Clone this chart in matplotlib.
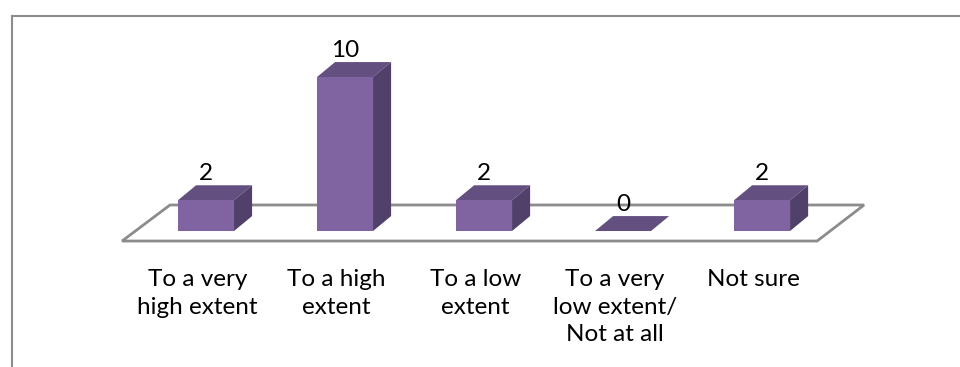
import numpy as np
import matplotlib.pyplot as plt
from matplotlib.patches import Polygon
from matplotlib.lines import Line2D

categories = ['To a very\nhigh extent', 'To a high\nextent', 'To a low\nextent',
              'To a very\nlow extent/\nNot at all', 'Not sure']
counts = [2, 10, 2, 0, 2]

front_col = '#8064a2'
top_col = '#634f80'
side_col = '#514069'
floor_col = '#8c8c8c'

plt.rcParams['font.family'] = ['Lato', 'DejaVu Sans']

fig = plt.figure(figsize=(9.6, 3.67), dpi=100)
ax = fig.add_axes([0, 0, 1, 1])
ax.set_xlim(-1.482, 5.424)
ax.set_ylim(-8.83, 15.0)
ax.axis('off')

x = np.arange(len(counts))
w = 0.403          # bar width
ddx, ddy = 0.13, 0.97   # depth offset of the pseudo-3D boxes

# floor of the 3D plot area
floor = Polygon([(-0.604, -0.65), (4.396, -0.65), (4.734, 1.69), (-0.259, 1.69)],
                closed=True, facecolor='none', edgecolor=floor_col, lw=2, zorder=1)
ax.add_patch(floor)

for xi, v in zip(x, counts):
    x0, x1 = xi - w / 2, xi + w / 2
    # top face
    ax.add_patch(Polygon([(x0, v), (x1, v), (x1 + ddx, v + ddy), (x0 + ddx, v + ddy)],
                         closed=True, facecolor=top_col, edgecolor='none', zorder=3))
    if v > 0:
        # right side face
        ax.add_patch(Polygon([(x1, 0), (x1 + ddx, ddy), (x1 + ddx, v + ddy), (x1, v)],
                             closed=True, facecolor=side_col, edgecolor='none', zorder=3))
        # front face
        ax.add_patch(Polygon([(x0, 0), (x1, 0), (x1, v), (x0, v)],
                             closed=True, facecolor=front_col, edgecolor='none', zorder=4))
    ax.text(xi, v + ddy + 0.35, str(v), ha='center', va='baseline',
            fontsize=17.5, color='black', zorder=5)

for xi, lab in zip(x, categories):
    ax.text(xi - 0.06, -2.45, lab, ha='center', va='top', fontsize=17.5,
            linespacing=1.4, color='black')

# chart outer border
fig.add_artist(Line2D([11.5 / 960, 1.0], [1 - 16 / 367, 1 - 16 / 367],
                      transform=fig.transFigure, color='#8c8c8c', lw=1.5))
fig.add_artist(Line2D([11.5 / 960, 11.5 / 960], [0, 1 - 16 / 367],
                      transform=fig.transFigure, color='#8c8c8c', lw=1.5))

fig.savefig('out.png', dpi=100)
